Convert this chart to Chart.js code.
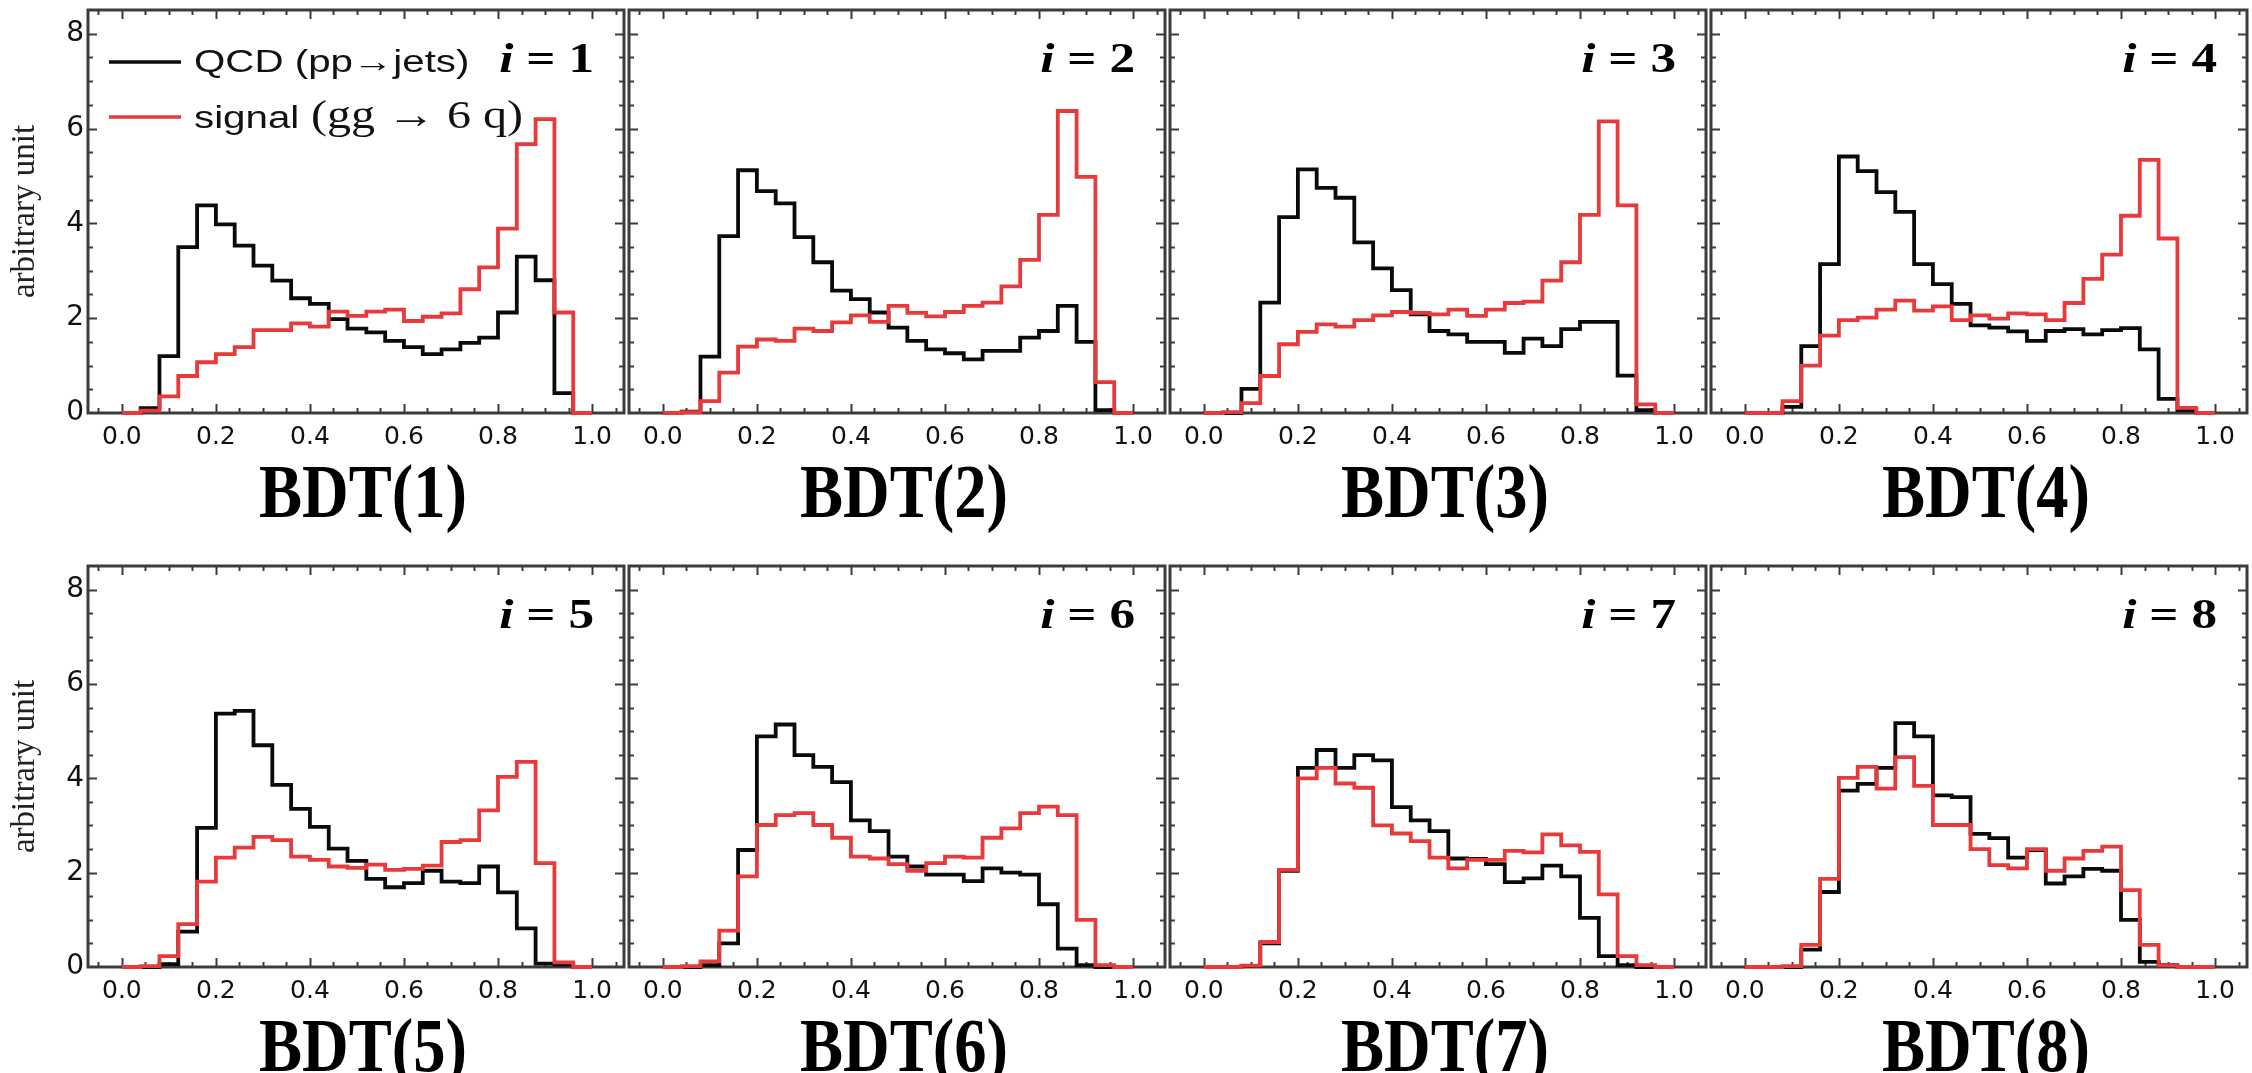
<!DOCTYPE html>
<html>
<head>
<meta charset="utf-8">
<script src="https://cdn.jsdelivr.net/npm/chart.js@4.4.1/dist/chart.umd.min.js"></script>
<style>
  html, body { margin: 0; padding: 0; background: #fff; overflow: hidden; }
  #wrap { position: relative; width: 2252px; height: 1073px; overflow: hidden; }
  canvas { position: absolute; }
</style>
</head>
<body>
<div id="wrap"></div>
<script>
// bin edges of the BDT histograms (25 bins, width 0.04)
const binEdges = [0.00, 0.04, 0.08, 0.12, 0.16, 0.20, 0.24, 0.28, 0.32, 0.36, 0.40, 0.44, 0.48,
                  0.52, 0.56, 0.60, 0.64, 0.68, 0.72, 0.76, 0.80, 0.84, 0.88, 0.92, 0.96, 1.00];
const xTicks = [0.0, 0.2, 0.4, 0.6, 0.8, 1.0];
const yTicks = [0, 2, 4, 6, 8];

// QCD background (black), one value per bin
const qcd1 = [0, 0.1, 1.2, 3.5, 4.38, 3.98, 3.53, 3.11, 2.79, 2.42, 2.3, 1.98, 1.78, 1.7, 1.52, 1.39, 1.24, 1.34, 1.48, 1.59, 2.12, 3.3, 2.8, 0.42, 0];
const qcd2 = [0, 0.03, 1.19, 3.73, 5.12, 4.68, 4.42, 3.71, 3.18, 2.58, 2.4, 2.12, 1.8, 1.52, 1.34, 1.26, 1.13, 1.31, 1.31, 1.59, 1.73, 2.26, 1.5, 0.06, 0];
const qcd3 = [0, 0, 0.51, 2.33, 4.13, 5.14, 4.75, 4.54, 3.6, 3.05, 2.59, 2.08, 1.73, 1.66, 1.5, 1.5, 1.27, 1.57, 1.41, 1.77, 1.92, 1.92, 0.79, 0.06, 0];
const qcd4 = [0, 0, 0.13, 1.41, 3.14, 5.41, 5.1, 4.66, 4.24, 3.14, 2.72, 2.3, 1.85, 1.8, 1.72, 1.52, 1.73, 1.77, 1.66, 1.75, 1.79, 1.34, 0.3, 0.06, 0];
const qcd5 = [0, 0, 0.06, 0.75, 2.95, 5.37, 5.43, 4.7, 3.86, 3.35, 2.97, 2.51, 2.25, 1.87, 1.69, 1.78, 2.04, 1.81, 1.78, 2.13, 1.58, 0.82, 0.07, 0.05, 0];
const qcd6 = [0, 0, 0.04, 0.5, 2.48, 4.89, 5.14, 4.49, 4.24, 3.92, 3.11, 2.88, 2.34, 2.13, 1.96, 1.96, 1.82, 2.09, 2.0, 1.96, 1.33, 0.39, 0.04, 0, 0];
const qcd7 = [0, 0, 0.02, 0.5, 2.04, 4.22, 4.6, 4.22, 4.49, 4.38, 3.39, 3.11, 2.88, 2.3, 2.29, 2.18, 1.8, 1.88, 2.15, 1.92, 1.04, 0.23, 0.04, 0, 0];
const qcd8 = [0, 0, 0, 0.37, 1.59, 3.74, 3.88, 4.22, 5.17, 4.89, 3.64, 3.6, 2.82, 2.73, 2.32, 2.48, 1.77, 1.92, 2.08, 2.04, 1.0, 0.11, 0.04, 0, 0];

// signal (red)
const sig1 = [0, 0.05, 0.35, 0.78, 1.07, 1.24, 1.39, 1.75, 1.75, 1.89, 1.82, 2.14, 2.05, 2.14, 2.18, 1.94, 2.03, 2.1, 2.61, 3.07, 3.89, 5.67, 6.2, 2.12, 0];
const sig2 = [0, 0.02, 0.25, 0.85, 1.4, 1.55, 1.52, 1.78, 1.73, 1.91, 2.06, 1.92, 2.26, 2.11, 2.04, 2.13, 2.26, 2.33, 2.67, 3.23, 4.18, 6.37, 4.98, 0.65, 0];
const sig3 = [0, 0.02, 0.21, 0.78, 1.45, 1.71, 1.87, 1.82, 1.96, 2.06, 2.13, 2.11, 2.08, 2.18, 2.05, 2.18, 2.32, 2.35, 2.79, 3.18, 4.18, 6.15, 4.38, 0.18, 0];
const sig4 = [0, 0, 0.25, 1.0, 1.63, 1.96, 2.01, 2.18, 2.37, 2.16, 2.25, 1.96, 2.06, 1.99, 2.1, 2.08, 1.96, 2.32, 2.83, 3.34, 4.16, 5.34, 3.68, 0.11, 0];
const sig5 = [0, 0.02, 0.23, 0.91, 1.81, 2.32, 2.53, 2.76, 2.69, 2.34, 2.27, 2.13, 2.1, 2.17, 2.06, 2.08, 2.15, 2.65, 2.69, 3.32, 4.03, 4.35, 2.2, 0.1, 0];
const sig6 = [0, 0.02, 0.12, 0.77, 1.92, 3.01, 3.22, 3.26, 3.01, 2.74, 2.34, 2.3, 2.18, 2.04, 2.2, 2.34, 2.32, 2.74, 2.94, 3.26, 3.4, 3.22, 1.0, 0.04, 0];
const sig7 = [0, 0, 0.03, 0.53, 2.06, 4.0, 4.22, 3.89, 3.8, 3.0, 2.83, 2.67, 2.32, 2.09, 2.27, 2.27, 2.46, 2.43, 2.81, 2.58, 2.44, 1.54, 0.23, 0.04, 0];
const sig8 = [0, 0, 0.02, 0.47, 1.87, 4.01, 4.24, 3.78, 4.45, 3.84, 3.01, 3.01, 2.5, 2.16, 2.09, 2.5, 2.04, 2.3, 2.46, 2.55, 1.63, 0.47, 0.04, 0, 0];

const qcdSeries = [qcd1, qcd2, qcd3, qcd4, qcd5, qcd6, qcd7, qcd8];
const sigSeries = [sig1, sig2, sig3, sig4, sig5, sig6, sig7, sig8];
const panelTitles = ['BDT(1)', 'BDT(2)', 'BDT(3)', 'BDT(4)', 'BDT(5)', 'BDT(6)', 'BDT(7)', 'BDT(8)'];
const panelIndex = ['1', '2', '3', '4', '5', '6', '7', '8'];
const qcdLabel = 'QCD (pp→jets)';
const sigLabel = 'signal (gg → 6 q)';

const BLACK = '#0a0a0a';
const RED = 'rgb(232,58,58)';
const FRAME = '#3c3c3c';

// panel geometry (pixels)
const frameLeft = [88, 629, 1170, 1711];
const frameW = 536;
const frameTop = [10, 566];
const frameH = [403, 401];

// histogram -> step line points at the bin edges
const toSteps = (vals) => {
    const pts = vals.map((v, k) => ({ x: binEdges[k], y: v }));
    pts.push({ x: binEdges[binEdges.length - 1], y: vals[vals.length - 1] });
    return pts;
};

// draw text made of several pieces, stretched horizontally by sx
const drawStretched = (ctx, parts, x, y, sx, align) => {
    let w = 0;
    parts.forEach(p => { ctx.font = p.font; p.w = ctx.measureText(p.text).width; w += p.w; });
    let x0 = x;
    if (align === 'right') x0 = x - w * sx;
    if (align === 'center') x0 = x - w * sx / 2;
    ctx.save();
    ctx.translate(x0, y);
    ctx.scale(sx, 1);
    ctx.textBaseline = 'alphabetic';
    ctx.textAlign = 'left';
    let px = 0;
    parts.forEach(p => { ctx.font = p.font; ctx.fillText(p.text, px, 0); px += p.w; });
    ctx.restore();
};

// frame with inward ticks on all four sides
const framePlugin = {
    id: 'panelFrame',
    beforeDatasetsDraw(chart) {
        const { ctx, chartArea: a, scales } = chart;
        const xs = scales.x, ys = scales.y;
        ctx.save();
        ctx.strokeStyle = FRAME;
        ctx.lineWidth = 2;
        ctx.beginPath();
        for (let i = -1; i <= 21; i++) {
            const v = i * 0.05;
            const px = Math.round(xs.getPixelForValue(v)) + 0.5;
            const len = (i % 4 === 0) ? 9 : 5;
            ctx.moveTo(px, a.bottom); ctx.lineTo(px, a.bottom - len);
            ctx.moveTo(px, a.top); ctx.lineTo(px, a.top + len);
        }
        for (let j = 1; j <= 16; j++) {
            const v = j * 0.5;
            const py = Math.round(ys.getPixelForValue(v)) + 0.5;
            const len = (j % 4 === 0) ? 9 : 5;
            ctx.moveTo(a.left, py); ctx.lineTo(a.left + len, py);
            ctx.moveTo(a.right, py); ctx.lineTo(a.right - len, py);
        }
        ctx.stroke();
        ctx.lineWidth = 3;
        ctx.strokeRect(a.left, a.top, a.right - a.left, a.bottom - a.top);
        ctx.restore();
    }
};

// "i = n" label, BDT(n) caption, and the legend of the first panel
const textPlugin = {
    id: 'panelText',
    afterDraw(chart, args, opts) {
        const { ctx, chartArea: a } = chart;
        ctx.save();
        ctx.fillStyle = '#000';
        drawStretched(ctx, [
            { text: 'i', font: 'italic bold 42px "Liberation Serif"' },
            { text: ' = ' + opts.index, font: 'bold 42px "Liberation Serif"' }
        ], a.right - 30, a.top + 62, 1.22, 'right');

        drawStretched(ctx, [{ text: opts.title, font: 'bold 76px "Liberation Serif"' }],
            (a.left + a.right) / 2 + 7, a.bottom + 104, 0.85, 'center');

        if (opts.legend) {
            const ds = chart.data.datasets;
            ctx.lineWidth = 3.6;
            ctx.strokeStyle = ds[0].borderColor;
            ctx.beginPath(); ctx.moveTo(a.left + 21, a.top + 52); ctx.lineTo(a.left + 93, a.top + 52); ctx.stroke();
            ctx.strokeStyle = ds[1].borderColor;
            ctx.beginPath(); ctx.moveTo(a.left + 21, a.top + 107); ctx.lineTo(a.left + 93, a.top + 107); ctx.stroke();

            ctx.fillStyle = '#111';
            drawStretched(ctx, [{ text: ds[0].label, font: '31px "Liberation Sans"' }], a.left + 106, a.top + 62, 1.3, 'left');
            const cut = ds[1].label.indexOf('(');
            drawStretched(ctx, [{ text: ds[1].label.slice(0, cut).trim(), font: '31px "Liberation Sans"' }], a.left + 106, a.top + 118, 1.3, 'left');
            drawStretched(ctx, [{ text: ds[1].label.slice(cut), font: '40px "Liberation Serif"' }], a.left + 223, a.top + 118, 1.2, 'left');
        }
        ctx.restore();
    }
};

const wrap = document.getElementById('wrap');

for (let n = 0; n < 8; n++) {
    const col = n % 4, row = Math.floor(n / 4);
    const leftPad = col === 0 ? 88 : 10;
    const canvas = document.createElement('canvas');
    const w = leftPad + frameW + 6;
    const h = 10 + frameH[row] + 125;
    canvas.width = w; canvas.height = h;
    canvas.style.width = w + 'px'; canvas.style.height = h + 'px';
    canvas.style.left = (frameLeft[col] - leftPad) + 'px';
    canvas.style.top = (frameTop[row] - 10) + 'px';
    wrap.appendChild(canvas);

    new Chart(canvas, {
        type: 'line',
        data: {
            datasets: [
                { label: qcdLabel, data: toSteps(qcdSeries[n]), borderColor: BLACK, borderWidth: 3.8,
                  pointRadius: 0, stepped: 'before', fill: false, order: 1, clip: false,
                  borderJoinStyle: 'miter', borderCapStyle: 'butt' },
                { label: sigLabel, data: toSteps(sigSeries[n]), borderColor: RED, borderWidth: 3.8,
                  pointRadius: 0, stepped: 'before', fill: false, order: 0, clip: false,
                  borderJoinStyle: 'miter', borderCapStyle: 'butt' }
            ]
        },
        options: {
            responsive: false,
            animation: false,
            events: [],
            layout: { padding: { top: 10, right: 6, left: 0, bottom: 0 } },
            plugins: {
                legend: { display: false },
                tooltip: { enabled: false },
                panelText: { index: panelIndex[n], title: panelTitles[n], legend: n === 0 }
            },
            scales: {
                x: {
                    type: 'linear', min: -0.072, max: 1.068,
                    grid: { display: false, drawTicks: false },
                    border: { display: false },
                    afterBuildTicks: (s) => { s.ticks = xTicks.map(v => ({ value: v })); },
                    afterFit: (s) => { s.height = 125; s.paddingLeft = 0; s.paddingRight = 0; },
                    ticks: {
                        callback: (v) => Number(v).toFixed(1),
                        font: { family: 'DejaVu Sans', size: 25 },
                        color: '#111', padding: 9, maxRotation: 0, autoSkip: false
                    }
                },
                y: {
                    type: 'linear', min: 0, max: 8.5,
                    grid: { display: false, drawTicks: false },
                    border: { display: false },
                    afterBuildTicks: (s) => { s.ticks = yTicks.map(v => ({ value: v })); },
                    afterFit: (s) => { s.width = leftPad; s.paddingTop = 0; s.paddingBottom = 0; },
                    ticks: {
                        display: col === 0,
                        font: { family: 'DejaVu Sans', size: 28 },
                        color: '#111', padding: 4
                    },
                    title: {
                        display: col === 0, text: 'arbitrary unit',
                        font: { family: 'Liberation Serif', size: 33 },
                        color: '#222', padding: { top: 6, bottom: 0 }
                    }
                }
            }
        },
        plugins: [framePlugin, textPlugin]
    });
}
</script>
</body>
</html>
